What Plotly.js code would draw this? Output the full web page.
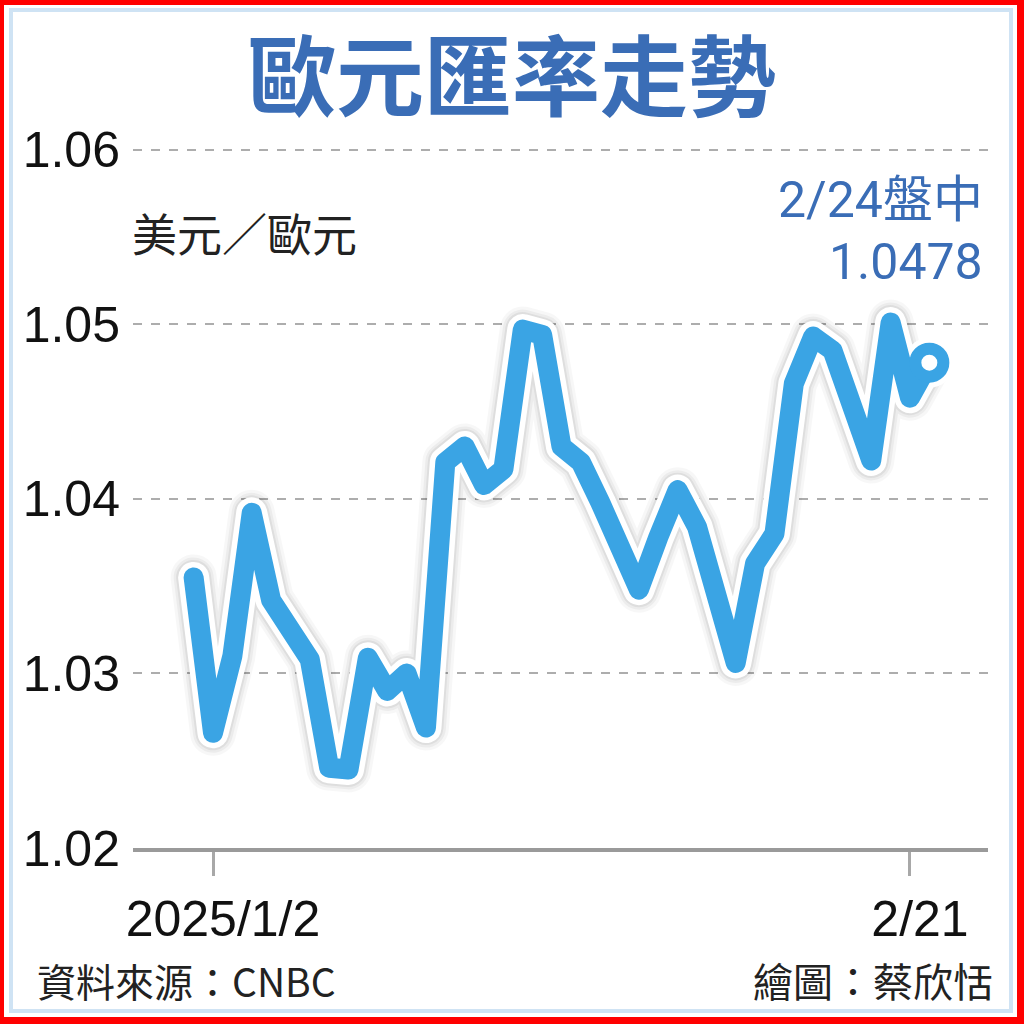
<!DOCTYPE html>
<html>
<head>
<meta charset="utf-8">
<script src="https://cdn.plot.ly/plotly-3.0.1.min.js"></script>
<style>
  body { margin: 0; background: #fff; }
  #chart { position: absolute; left: 0; top: 0; width: 1024px; height: 1024px; }
  #frame {
    position: absolute; left: 0; top: 0; width: 1024px; height: 1024px;
    box-sizing: border-box; border: solid #ff0000; border-width: 5px 7px 7px 4px;
    pointer-events: none;
  }
  #frame .inner {
    position: absolute; top: 3px; left: 5px; right: 4px; bottom: 4px;
    border: 4px solid #cfe3f4;
  }
</style>
</head>
<body>
<div id="chart"></div>
<div id="frame"><div class="inner"></div></div>
<script>
// trading days, 2024/12/31 .. 2025/2/24
const dates = [
  "12/31", "1/2", "1/3", "1/6", "1/7", "1/8", "1/9", "1/10",
  "1/13", "1/14", "1/15", "1/16", "1/17", "1/20", "1/21", "1/22",
  "1/23", "1/24", "1/27", "1/28", "1/29", "1/30", "1/31", "2/3",
  "2/4", "2/5", "2/6", "2/7", "2/10", "2/11", "2/12", "2/13",
  "2/14", "2/17", "2/18", "2/19", "2/20", "2/21", "2/24",
];
// USD per EUR
const rates = [
  1.0355, 1.0266, 1.0310, 1.0392, 1.0342, 1.0325, 1.0308, 1.0246,
  1.0245, 1.0309, 1.0290, 1.0300, 1.0269, 1.0421, 1.0430, 1.0408,
  1.0417, 1.0497, 1.0494, 1.0430, 1.0421, 1.0398, 1.0372, 1.0348,
  1.0378, 1.0405, 1.0384, 1.0340, 1.0306, 1.0363, 1.0380, 1.0466,
  1.0493, 1.0485, 1.0454, 1.0422, 1.0501, 1.0458, 1.0478,
];
const yTicks = [1.02, 1.03, 1.04, 1.05, 1.06];
const yTickText = ["1.02", "1.03", "1.04", "1.05", "1.06"];
const xTicks = ["1/2", "2/21"];
const xTickText = ["2025/1/2", "2/21"];

const LINE_BLUE = "#3aa4e4";
const TEXT_BLUE = "#3a6db6";
const CJK = "'Noto Sans CJK TC', 'Noto Sans CJK SC', sans-serif";
const NUM = "'Liberation Sans', Arial, sans-serif";

// plot box in page pixels
const PLOT_L = 133, PLOT_R = 988, PLOT_T = 148, PLOT_B = 848;
const px = (x) => (x - PLOT_L) / (PLOT_R - PLOT_L);
const py = (y) => (PLOT_B - y) / (PLOT_B - PLOT_T);

const lastX = [dates[dates.length - 1]];
const lastY = [rates[rates.length - 1]];

function lineTrace(width, color) {
  return {
    type: "scatter",
    mode: "lines",
    x: dates,
    y: rates,
    line: { color, width, shape: "linear" },
    hoverinfo: "skip",
  };
}

const traces = [
  lineTrace(46, "rgba(0,0,0,0.03)"),
  lineTrace(40, "rgba(0,0,0,0.045)"),
  lineTrace(35, "rgba(0,0,0,0.06)"),
  lineTrace(31, "#ffffff"),
  {
    type: "scatter",
    mode: "markers",
    x: lastX,
    y: lastY,
    marker: { size: 50, color: "#ffffff", line: { width: 0 } },
    hoverinfo: "skip",
  },
  lineTrace(20, LINE_BLUE),
  {
    type: "scatter",
    mode: "markers",
    x: lastX,
    y: lastY,
    marker: { size: 28, color: "#ffffff", line: { color: LINE_BLUE, width: 12 } },
    hoverinfo: "skip",
  },
];

function note(text, x, y, anchor, size, color, family) {
  return {
    text,
    xref: "paper", yref: "paper",
    x: px(x), y: py(y),
    xanchor: anchor, yanchor: "middle",
    showarrow: false,
    font: { family, size, color },
  };
}

const layout = {
  width: 1024,
  height: 1024,
  margin: { l: PLOT_L, r: 1024 - PLOT_R, t: PLOT_T, b: 1024 - PLOT_B },
  paper_bgcolor: "#ffffff",
  plot_bgcolor: "#ffffff",
  showlegend: false,
  title: {
    text: "歐元匯率走勢",
    font: { family: CJK, size: 88, color: TEXT_BLUE, weight: 700 },
    xref: "container",
    x: 0.5,
    xanchor: "center",
    yref: "container",
    y: 1 - 78 / 1024,
    yanchor: "middle",
  },
  xaxis: {
    type: "category",
    range: [-3.132, 41.03],
    tickmode: "array",
    tickvals: xTicks,
    ticktext: xTickText,
    ticks: "outside",
    ticklen: 24,
    tickwidth: 3,
    tickcolor: "#a8a8a8",
    ticklabelshift: 10,
    tickfont: { family: NUM, size: 50, color: "#111" },
    showgrid: false,
    zeroline: false,
    showline: true,
    linecolor: "#9a9a9a",
    linewidth: 4,
    fixedrange: true,
  },
  yaxis: {
    // a hair above 1.06 so its dashed grid line is not clipped at the edge
    range: [1.02, 1.0601],
    tickmode: "array",
    tickvals: yTicks,
    ticktext: yTickText,
    ticks: "",
    ticklabelstandoff: 12,
    tickfont: { family: NUM, size: 50, color: "#111" },
    showgrid: true,
    gridcolor: "#adadad",
    gridwidth: 2,
    griddash: "dash",
    zeroline: false,
    showline: false,
    fixedrange: true,
  },
  annotations: [
    note("美元／歐元", 130, 232, "left", 45, "#222", CJK),
    note("2/24盤中", 985, 200, "right", 50, TEXT_BLUE, "Roboto, " + CJK),
    note("1.0478", 985, 262, "right", 50, TEXT_BLUE, "Roboto, " + CJK),
    note("資料來源：CNBC", 35, 980, "left", 39, "#222", CJK),
    note("繪圖：蔡欣恬", 995, 980, "right", 40, "#222", CJK),
  ],
};

Plotly.newPlot("chart", traces, layout, { displayModeBar: false, staticPlot: true }).then((gd) => {
  // rounded joins like the printed graphic
  gd.querySelectorAll(".scatterlayer path.js-line").forEach((path) => {
    path.style.strokeLinejoin = "round";
    path.style.strokeLinecap = "round";
  });
});
</script>
</body>
</html>
